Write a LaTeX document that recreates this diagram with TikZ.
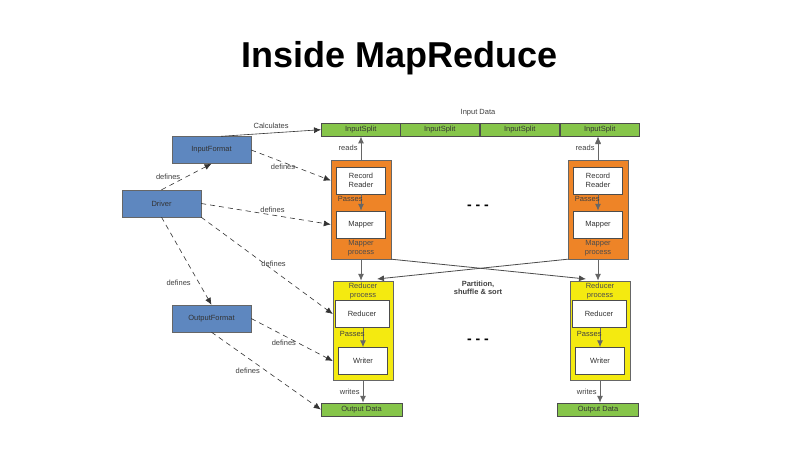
\documentclass[tikz,border=0pt]{standalone}
\usepackage{fontspec}
\setmainfont{Liberation Sans}
\usetikzlibrary{arrows.meta}
\definecolor{bl}{HTML}{5E87BF}
\definecolor{gr}{HTML}{86C54A}
\definecolor{orng}{HTML}{EE8427}
\definecolor{yel}{HTML}{F4EA10}
\begin{document}
\begin{tikzpicture}[x=1pt,y=-1pt,
 lbl/.style={font=\fontsize{7.5}{8.5}\selectfont,text=black!75,inner sep=0pt,align=center},
 blue/.style={draw=black!60,fill=bl,minimum width=79pt,minimum height=27pt,font=\fontsize{7.5}{8.5}\selectfont,text=black!80},
 green/.style={draw=black!70,fill=gr,minimum height=13pt,inner sep=0pt,font=\fontsize{7.5}{8.5}\selectfont,text=black!80},
 wbox/.style={draw=black!70,fill=white,minimum width=49pt,minimum height=27pt,inner sep=0pt,align=center,font=\fontsize{7.5}{8.5}\selectfont,text=black!80},
 arr/.style={draw=black!60,line width=1pt,-{Latex[length=7pt,width=6pt]}},
 dsh/.style={draw=black!80,line width=0.6pt,dash pattern=on 5pt off 4pt,-{Latex[length=7pt,width=6pt]}}]
\useasboundingbox[fill=white] (0,0) rectangle (800,450);
\node[font=\bfseries\fontsize{36}{40}\selectfont] (title) at (400,58) {Inside MapReduce};
% input data
\node[lbl] (indata) at (478,113) {Input Data};
\foreach \i/\x in {1/321,2/400,3/480,4/560}{
 \node[green,minimum width=79pt,anchor=north west] (is\i) at (\x,123) {InputSplit};}
% blue
\node[blue] (inf) at (211.5,150) {InputFormat};
\node[blue] (drv) at (161.5,203.5) {Driver};
\node[blue] (outf) at (211.5,318.5) {OutputFormat};
% mappers and reducers
\foreach \n/\mx/\rx/\ox in {L/361/363/361.5,R/598/600/598}{
 \node[draw=black!60,fill=orng,minimum width=60pt,minimum height=99pt,inner sep=0pt] (mp\n) at (\mx,209.5) {};
 \node[wbox] (rr\n) at (\mx,180.5) {Record\\Reader};
 \node[wbox] (map\n) at (\mx,224.5) {Mapper};
 \node[lbl,text=black!70] (mpl\n) at (\mx,248) {Mapper\\process};
 \node[draw=black!60,fill=yel,minimum width=60pt,minimum height=99pt,inner sep=0pt] (rp\n) at (\rx,330.5) {};
 \node[lbl,text=black!70] (rpl\n) at (\rx,291) {Reducer\\process};
 \node[wbox,minimum width=54pt] (red\n) at (\rx-1,314) {Reducer};
 \node[wbox] (wr\n) at (\rx,361) {Writer};
 \node[green,minimum width=81pt] (od\n) at (\ox,409.5) {Output Data};
 \draw[arr] (mp\n.north) -- node[lbl,left=3pt]{reads} (mp\n.north|-is1.south);
 \draw[arr] (rr\n) -- node[lbl,pos=0.3,left=-2pt]{Passes} (map\n);
 \draw[arr] (red\n.south-|wr\n) -- node[lbl,pos=0.3,left=-2pt]{Passes} (wr\n);
 \draw[arr] (mp\n.south) -- (mp\n.south|-rp\n.north);
 \draw[arr] (rp\n.south) -- node[lbl,left=3pt]{writes} (rp\n.south|-od\n.north);
}
\coordinate (isR) at (598,137);
\draw[arr] (mpR.north) -- (isR);
\coordinate (xa) at (391,259);
\coordinate (xb) at (568,259);
\coordinate (ta) at (586,279);
\coordinate (tb) at (377,279);
\draw[draw=black!70,line width=0.8pt,-{Latex[length=7pt,width=6pt]}] (mpL.south east) -- (ta);
\draw[draw=black!70,line width=0.8pt,-{Latex[length=7pt,width=6pt]}] (mpR.south west) -- (tb);
\node[lbl,font=\bfseries\fontsize{7.5}{8.5}\selectfont] (pss) at (478,288) {Partition,\\shuffle \& sort};
\node[font=\bfseries\fontsize{14}{14}\selectfont] (d1) at (478,207) {- - -};
\node[font=\bfseries\fontsize{14}{14}\selectfont] (d2) at (478,341) {- - -};
% calculates
\draw[draw=black!80,line width=0.6pt,-{Latex[length=7pt,width=6pt]}] (inf.north east) ++(-30,0) coordinate (cs) -- node[lbl,above=4pt]{Calculates} (is1.west);
% defines
\draw[dsh] (inf.east) -- node[lbl,pos=0.4,below=2pt]{defines} (mpL.west|-rrL);
\draw[dsh] (drv.north) -- node[lbl,left=6pt]{defines} (inf.south);
\draw[dsh] (drv.east) -- node[lbl,pos=0.55,above=2pt]{defines} (mpL.west|-mapL);
\draw[dsh] (drv.south east) -- node[lbl,pos=0.55,above=4pt]{defines} (rpL.west|-redL);
\draw[dsh] (drv.south) -- node[lbl,pos=0.75,left=8pt]{defines} (outf.north);
\draw[dsh] (outf.east) -- node[lbl,pos=0.4,below=4pt]{defines} (rpL.west|-wrL);
\draw[dsh] (outf.south) -- node[lbl,pos=0.5,left=6pt]{defines} (odL.west);
\end{tikzpicture}
\end{document}
